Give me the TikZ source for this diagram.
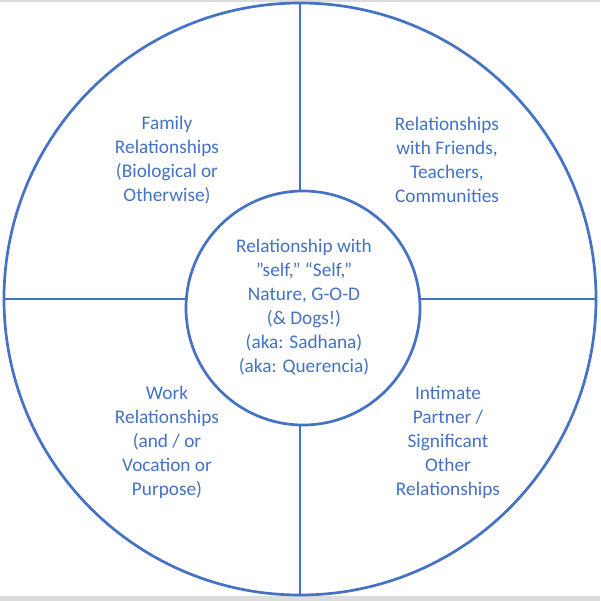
\documentclass[tikz,border=0pt]{standalone}
\usepackage{fontspec}
\setmainfont{Carlito}
\definecolor{ringblue}{HTML}{4472C4}
\definecolor{bandgray}{HTML}{DCDCDC}
\tikzset{
  ring/.style={draw=ringblue, line width=2.7pt, circle, inner sep=0pt},
  divider/.style={draw=ringblue, line width=2.7pt},
  lbl/.style={text=ringblue, align=center, inner sep=0pt, font=\fontsize{19.3}{24}\selectfont}
}
\begin{document}
\begin{tikzpicture}[x=1pt,y=-1pt]
\useasboundingbox (0,0) rectangle (600,601);
\fill[white] (0,0) rectangle (600,601);
\fill[bandgray] (0,0) rectangle (600,2);
\fill[bandgray] (0,596) rectangle (600,601);
\node[ring, minimum size=592pt] (outer) at (300,299) {};
\node[ring, minimum size=234pt] (inner) at (303,308) {};
\draw[divider] (outer.north) -- (outer.north |- inner.north);
\draw[divider] (outer.south) -- (outer.south |- inner.south);
\draw[divider] (outer.west) -- (inner.west |- outer.west);
\draw[divider] (outer.east) -- (inner.east |- outer.east);
\node[lbl] (family) at (167,160) {Family\\Relationships\\(Biological or\\Otherwise)};
\node[lbl] (friends) at (447,160) {Relationships\\with Friends,\\Teachers,\\Communities};
\node[lbl] (self) at (304,307) {Relationship with\\”self,” “Self,”\\Nature, G-O-D\\(\& Dogs!)\\(aka: Sadhana)\\(aka: Querencia)};
\node[lbl] (work) at (167,442) {Work\\Relationships\\(and / or\\Vocation or\\Purpose)};
\node[lbl] (intimate) at (448,442) {Intimate\\Partner /\\Significant\\Other\\Relationships};
\end{tikzpicture}
\end{document}
